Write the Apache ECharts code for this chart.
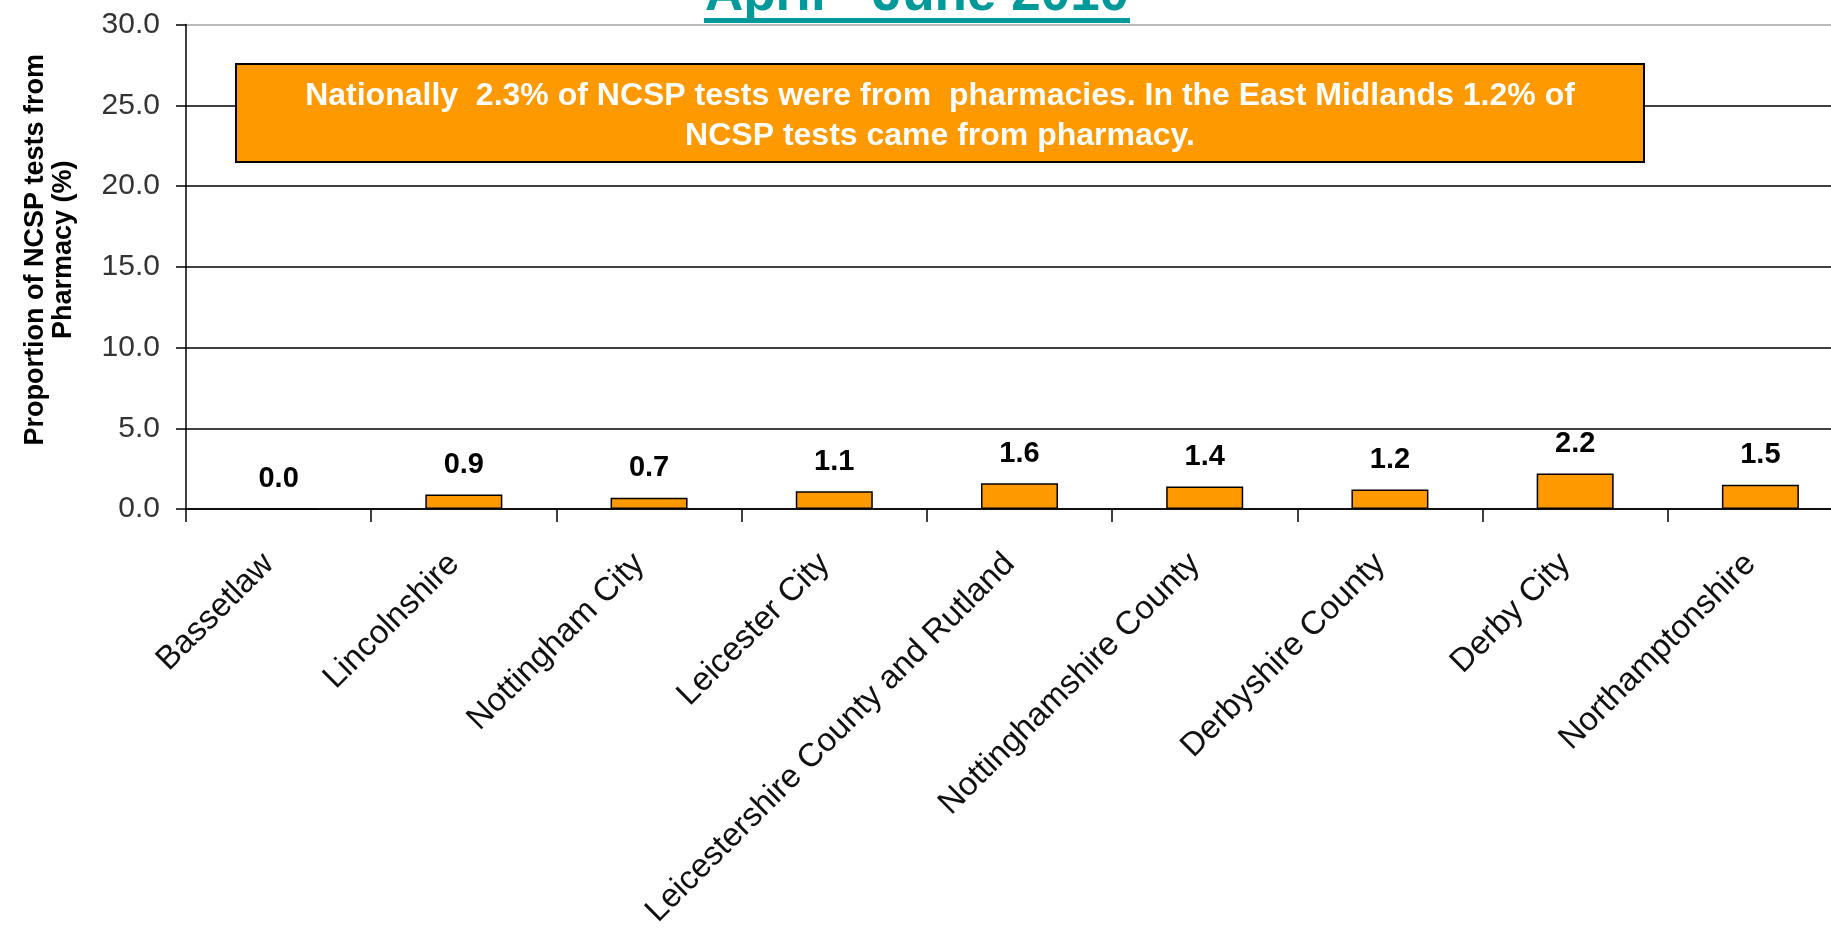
<!DOCTYPE html>
<html><head><meta charset="utf-8">
<script src="https://cdn.jsdelivr.net/npm/echarts@6/dist/echarts.min.js"></script>
<style>html,body{margin:0;padding:0;background:#fff}#c{width:1831px;height:929px}</style>
</head><body><div id="c"></div>
<script>
const categories = ['Bassetlaw','Lincolnshire','Nottingham City','Leicester City','Leicestershire County and Rutland','Nottinghamshire County','Derbyshire County','Derby City','Northamptonshire'];
const pharmacyShare = [0.0, 0.9, 0.7, 1.1, 1.6, 1.4, 1.2, 2.2, 1.5];
const yMin = 0, yMax = 30, yStep = 5;
const titleText = 'April - June 2010';
const noteText = 'Nationally  2.3% of NCSP tests were from  pharmacies. In the East Midlands 1.2% of\nNCSP tests came from pharmacy.';
const yAxisName = 'Proportion of NCSP tests from\nPharmacy (%)';

const FONT = 'Liberation Sans, Arial, sans-serif';
const chart = echarts.init(document.getElementById('c'), null, {renderer: 'canvas'});
const gridColors = [];
for (let v = yMin; v <= yMax; v += yStep) gridColors.push(v === yMax ? '#a6a6a6' : '#000');

chart.setOption({
  animation: false,
  backgroundColor: '#fff',
  grid: {left: 186, right: -22, top: 24.5, bottom: 420, containLabel: false, outerBoundsMode: 'none'},
  xAxis: {
    type: 'category',
    data: categories,
    axisLine: {lineStyle: {color: '#000', width: 1.5}},
    axisTick: {show: true, length: 13, lineStyle: {color: '#000', width: 1.5}},
    axisLabel: {rotate: 45, interval: 0, margin: 40, color: '#111', fontFamily: FONT, fontSize: 33, padding: [0, 14, 0, 0]}
  },
  yAxis: {
    type: 'value', min: yMin, max: yMax, interval: yStep,
    name: yAxisName, nameLocation: 'middle', nameGap: 108, nameRotate: 90,
    nameTextStyle: {fontFamily: FONT, fontWeight: 'bold', fontSize: 27, color: '#000', lineHeight: 28, padding: [0, 0, 0, 34]},
    axisLine: {show: true, lineStyle: {color: '#000', width: 1.5}},
    axisTick: {show: true, length: 10, lineStyle: {color: '#000', width: 1.5}},
    axisLabel: {margin: 26, color: '#333', fontFamily: FONT, fontSize: 30, formatter: v => v.toFixed(1)},
    splitLine: {show: true, lineStyle: {color: gridColors, width: 1.5}}
  },
  series: [{
    type: 'bar',
    data: pharmacyShare,
    barWidth: 77,
    itemStyle: {color: '#FF9900', borderColor: '#000', borderWidth: 1.5},
    label: {show: true, position: 'top', distance: 15, fontFamily: FONT, fontWeight: 'bold', fontSize: 29, color: '#000', formatter: p => p.value.toFixed(1)}
  }],
  graphic: [
    {type: 'text', z: 100, x: 917, y: -4.5, style: {text: titleText, fill: '#009999', font: 'bold 53px ' + FONT, align: 'center', verticalAlign: 'middle'}},
    {type: 'rect', z: 100, shape: {x: 704, y: 18, width: 426, height: 5}, style: {fill: '#009999'}},
    {type: 'rect', z: 100, shape: {x: 236, y: 64, width: 1408, height: 98}, style: {fill: '#FF9900', stroke: '#000', lineWidth: 2},
      textContent: {z: 101, style: {text: noteText, fill: '#fff', font: 'bold 32px ' + FONT, align: 'center', verticalAlign: 'middle', lineHeight: 40}},
      textConfig: {position: 'inside', offset: [0, 3]}}
  ]
});
</script></body></html>
